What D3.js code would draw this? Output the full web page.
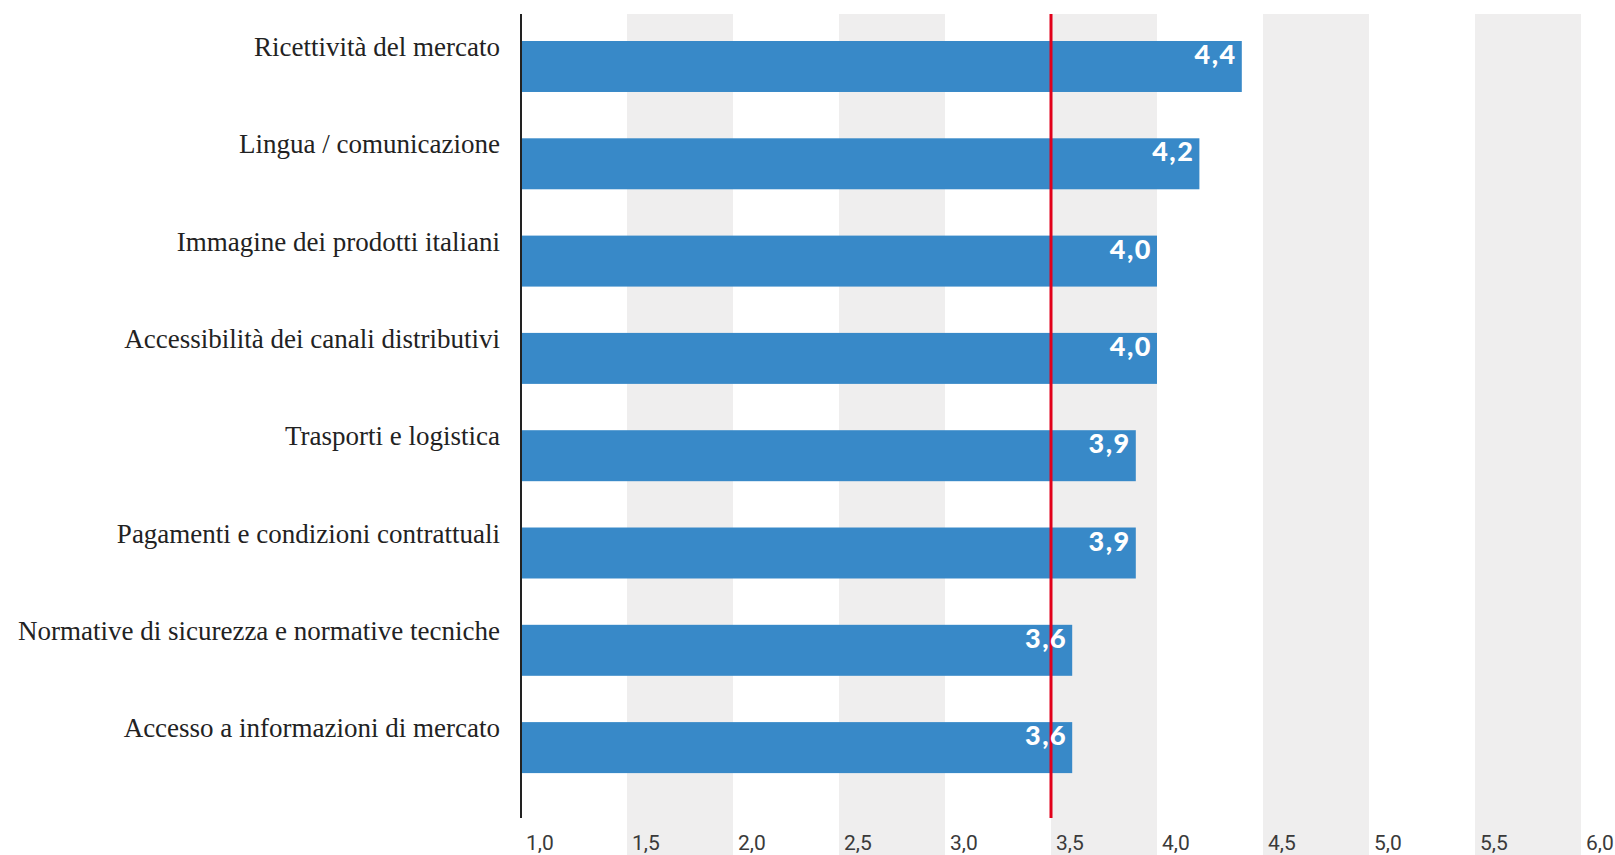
<!DOCTYPE html>
<html><head><meta charset="utf-8">
<script src="https://cdn.jsdelivr.net/npm/d3@7"></script>
<style>body{margin:0;background:#fff;}svg{display:block;}</style>
</head><body>
<svg id="c" width="1615" height="855"></svg>
<script>
const categories = ["Ricettività del mercato","Lingua / comunicazione","Immagine dei prodotti italiani","Accessibilità dei canali distributivi","Trasporti e logistica","Pagamenti e condizioni contrattuali","Normative di sicurezza e normative tecniche","Accesso a informazioni di mercato"];
const values = [4.4, 4.2, 4.0, 4.0, 3.9, 3.9, 3.6, 3.6];
const tickValues = [1.0,1.5,2.0,2.5,3.0,3.5,4.0,4.5,5.0,5.5,6.0];
const bandStarts = [1.5,2.5,3.5,4.5,5.5];
const referenceValue = 3.5;

const svg = d3.select("#c");
const x = d3.scaleLinear().domain([1,6]).range([521,1581]);
const y = d3.scaleBand().domain(categories).range([15.7,798.4]).paddingInner(0.476).paddingOuter(0.26);
const fmt = v => d3.format(".1f")(v).replace(".", ",");

// gray bands
svg.append("g").selectAll("rect").data(bandStarts).join("rect")
  .attr("x", d => x(d)).attr("width", d => x(d+0.5)-x(d))
  .attr("y", 14).attr("height", 855-14).attr("fill", "#efeeee");

// bars
svg.append("g").selectAll("rect").data(values).join("rect")
  .attr("x", x(1)).attr("width", d => x(d)-x(1))
  .attr("y", (d,i) => y(categories[i])).attr("height", y.bandwidth())
  .attr("fill", "#3889c8");

// reference line
svg.append("line").attr("x1", x(referenceValue)).attr("x2", x(referenceValue))
  .attr("y1", 14).attr("y2", 818).attr("stroke", "#e2001a").attr("stroke-width", 3);

// axis line
svg.append("line").attr("x1", x(1)).attr("x2", x(1)).attr("y1", 14).attr("y2", 818)
  .attr("stroke", "#222").attr("stroke-width", 2);

// value labels
svg.append("g").selectAll("text").data(values).join("text")
  .attr("x", d => x(d)-5).attr("y", (d,i) => y(categories[i]) + 23)
  .attr("text-anchor", "end").attr("fill", "#fff")
  .attr("font-family", "Lato, 'Open Sans', sans-serif").attr("font-weight", "900")
  .attr("font-size", 27).attr("letter-spacing", 1.5).text(fmt);

// category labels
svg.append("g").selectAll("text").data(categories).join("text")
  .attr("x", 500).attr("y", d => y(d) + 15)
  .attr("text-anchor", "end").attr("fill", "#222")
  .attr("font-family", "'Liberation Serif', 'DejaVu Serif', serif")
  .attr("font-size", 27).text(d => d);

// tick labels
svg.append("g").selectAll("text").data(tickValues).join("text")
  .attr("x", d => x(d)+5).attr("y", 850)
  .attr("fill", "#3a3a3a")
  .attr("font-family", "Roboto, sans-serif")
  .attr("font-size", 21).text(fmt);
</script>
</body></html>
